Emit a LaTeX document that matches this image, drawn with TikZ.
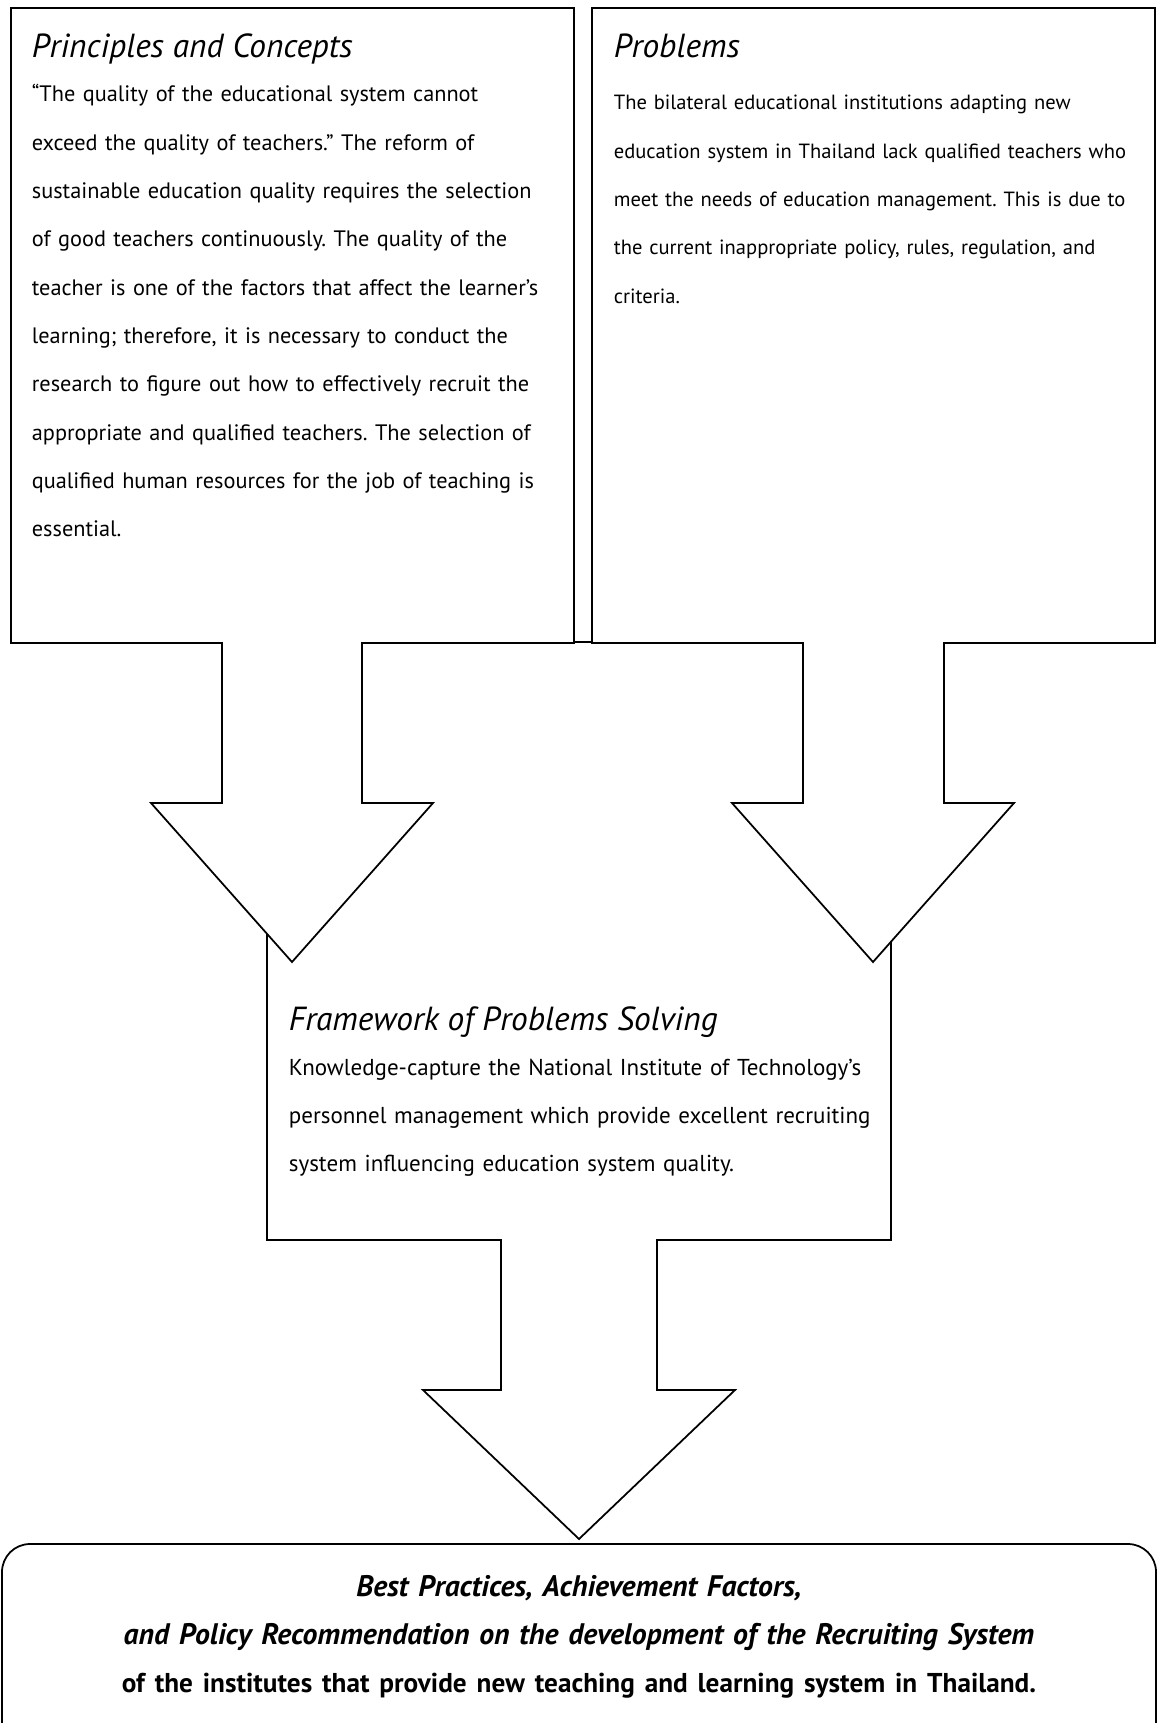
\documentclass[tikz,border=0pt]{standalone}
\usepackage{fontspec}
\setmainfont{PT Sans}
\usetikzlibrary{positioning}

\newcommand{\hdfont}{\fontsize{19}{22}\selectfont\itshape}
\newcommand{\bdfont}{\fontsize{12.7}{27.5}\selectfont}
\newcommand{\prfont}{\fontsize{11.7}{27.5}\selectfont}
\newcommand{\fwfont}{\fontsize{13.1}{27.5}\selectfont}
\newcommand{\outfont}{\fontsize{16.9}{27.5}\selectfont\bfseries}
\frenchspacing

\begin{document}
\begin{tikzpicture}[x=0.02cm, y=-0.02cm, line width=1pt,
      callout/.style={draw, fill=white, line join=miter},
      headtext/.style={font=\hdfont, anchor=base west, inner sep=0pt},
      bodytext/.style={font=\bdfont, align=left, text width=12cm, anchor=base west, inner sep=0pt}]
  \useasboundingbox (0,0) rectangle (1157,1723);
  \clip (0,0) rectangle (1157,1723);

  % outcome box
  \draw[rounded corners=0.56cm] (2,1544) rectangle (1156,1790);

  % framework box (its top is hidden under the two arrow heads)
  \fill[white] (267,900) -- (891,900) -- (891,1240) -- (267,1240) -- cycle;
  \draw[line join=miter] (267,900) -- (267,1240) -- (501,1240) -- (501,1390) -- (423,1390)
    -- (579,1539) -- (735,1390) -- (657,1390) -- (657,1240) -- (891,1240) -- (891,900);

  % principles and problems
  \draw[callout] (11,8) -- (574,8) -- (574,643) -- (362,643) -- (362,803) -- (433,803)
    -- (292,962) -- (151,803) -- (222,803) -- (222,643) -- (11,643) -- cycle;
  \draw[callout] (592,8) -- (1155,8) -- (1155,643) -- (944,643) -- (944,803) -- (1014,803)
    -- (873,962) -- (732,803) -- (803,803) -- (803,643) -- (592,643) -- cycle;
  \draw (574,642) -- (592,642);

  \node[headtext] (pchead) at (31,58) {Principles and Concepts};
  \node[bodytext] (pcbody) at ([yshift=-0.88cm]pchead.base west)
    {“The quality of the educational system cannot\\
     exceed the quality of teachers.” The reform of\\
     sustainable education quality requires the selection\\
     of good teachers continuously. The quality of the\\
     teacher is one of the factors that affect the learner's\\
     learning; therefore, it is necessary to conduct the\\
     research to figure out how to effectively recruit the\\
     appropriate and qualified teachers. The selection of\\
     qualified human resources for the job of teaching is\\
     essential.};

  \node[headtext] (prhead) at (613,58) {Problems};
  \node[bodytext, font=\prfont] (prbody) at ([yshift=-1.04cm]prhead.base west)
    {The bilateral educational institutions adapting new\\
     education system in Thailand lack qualified teachers who\\
     meet the needs of education management. This is due to\\
     the current inappropriate policy, rules, regulation, and\\
     criteria.};

  \node[headtext] (fwhead) at (288,1030) {Framework of Problems Solving};
  \node[bodytext, font=\fwfont] (fwbody) at ([yshift=-0.9cm]fwhead.base west)
    {Knowledge-capture the National Institute of Technology’s\\
     personnel management which provide excellent recruiting\\
     system influencing education system quality.};

  \node[font=\outfont, align=center, text width=22cm, anchor=base, inner sep=0pt] (outcome) at (579,1596)
    {\itshape Best Practices, Achievement Factors,\\
     and Policy Recommendation on the development of the Recruiting System\\
     \upshape\fontsize{15.5}{27.5}\selectfont of the institutes that provide new teaching and learning system in Thailand.};
\end{tikzpicture}
\end{document}
